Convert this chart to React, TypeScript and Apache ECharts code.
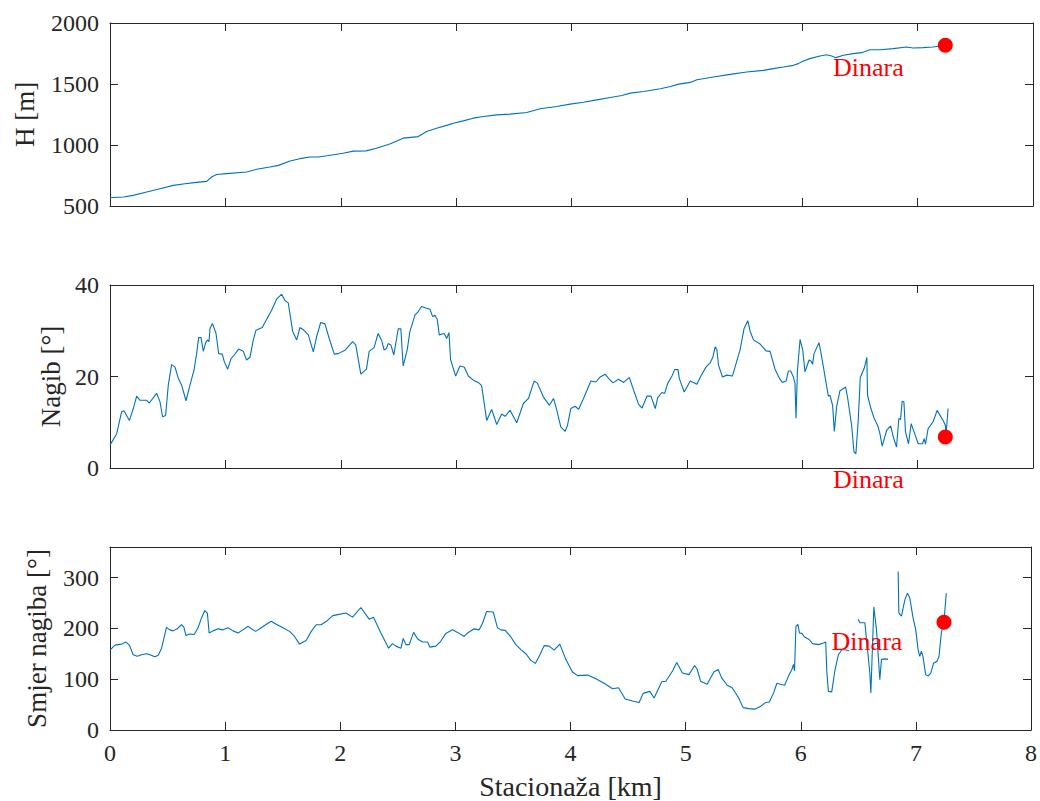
import React, { useEffect, useRef } from "react";
import * as echarts from "echarts";

// ---- Data ----
const xTicks = [0, 1, 2, 3, 4, 5, 6, 7, 8];

const hKm = [0, 0.116, 0.202, 0.318, 0.433, 0.549, 0.65, 0.751, 0.838, 0.881, 0.924, 1.011, 1.184, 1.271, 1.386, 1.459, 1.56, 1.646, 1.733, 1.805, 1.88, 2.02, 2.11, 2.22, 2.31, 2.425, 2.541, 2.672, 2.744, 2.831, 2.932, 2.975, 3.062, 3.149, 3.236, 3.352, 3.467, 3.612, 3.728, 3.873, 3.988, 4.104, 4.22, 4.336, 4.437, 4.509, 4.625, 4.77, 4.857, 4.929, 5.03, 5.087, 5.231, 5.375, 5.519, 5.663, 5.75, 5.836, 5.923, 5.966, 6.01, 6.067, 6.154, 6.211, 6.254, 6.292, 6.356, 6.442, 6.514, 6.586, 6.673, 6.788, 6.904, 6.961, 7.048, 7.134, 7.192, 7.241];
const hVal = [568, 574, 587, 615, 642, 669, 683, 694, 702, 738, 758, 765, 779, 801, 820, 833, 869, 888, 902, 902, 912, 933, 950, 952, 974, 1009, 1056, 1069, 1110, 1138, 1165, 1179, 1198, 1220, 1234, 1247, 1253, 1266, 1297, 1316, 1335, 1351, 1370, 1390, 1406, 1425, 1439, 1461, 1480, 1499, 1513, 1535, 1557, 1579, 1598, 1612, 1626, 1639, 1653, 1667, 1688, 1708, 1729, 1740, 1729, 1716, 1735, 1749, 1757, 1781, 1781, 1790, 1803, 1795, 1798, 1803, 1811, 1817];

const nagibKm = [0, 0.058, 0.101, 0.121, 0.168, 0.202, 0.231, 0.26, 0.318, 0.341, 0.404, 0.433, 0.456, 0.482, 0.505, 0.534, 0.563, 0.592, 0.621, 0.659, 0.693, 0.728, 0.751, 0.768, 0.789, 0.809, 0.829, 0.846, 0.858, 0.867, 0.887, 0.919, 0.942, 0.973, 0.991, 1.02, 1.049, 1.077, 1.115, 1.155, 1.184, 1.213, 1.242, 1.265, 1.32, 1.358, 1.401, 1.444, 1.488, 1.516, 1.545, 1.583, 1.618, 1.646, 1.681, 1.719, 1.762, 1.791, 1.826, 1.863, 1.9, 1.944, 1.979, 2.04, 2.103, 2.13, 2.174, 2.223, 2.246, 2.289, 2.324, 2.353, 2.376, 2.396, 2.411, 2.434, 2.46, 2.498, 2.521, 2.541, 2.576, 2.599, 2.643, 2.672, 2.7, 2.744, 2.773, 2.796, 2.816, 2.836, 2.854, 2.897, 2.918, 2.938, 2.952, 2.996, 3.033, 3.071, 3.106, 3.149, 3.192, 3.221, 3.265, 3.308, 3.352, 3.395, 3.424, 3.467, 3.525, 3.583, 3.627, 3.676, 3.705, 3.757, 3.809, 3.844, 3.873, 3.907, 3.945, 3.965, 3.994, 4.032, 4.061, 4.104, 4.168, 4.211, 4.249, 4.292, 4.321, 4.359, 4.408, 4.452, 4.501, 4.544, 4.582, 4.611, 4.654, 4.689, 4.726, 4.747, 4.784, 4.807, 4.834, 4.871, 4.894, 4.923, 4.934, 4.977, 5.029, 5.087, 5.121, 5.167, 5.202, 5.225, 5.245, 5.26, 5.274, 5.309, 5.346, 5.395, 5.418, 5.461, 5.496, 5.528, 5.548, 5.577, 5.635, 5.686, 5.721, 5.764, 5.802, 5.828, 5.86, 5.88, 5.9, 5.923, 5.937, 5.946, 5.958, 5.981, 6.004, 6.024, 6.059, 6.076, 6.09, 6.102, 6.145, 6.16, 6.188, 6.226, 6.24, 6.263, 6.278, 6.298, 6.327, 6.376, 6.393, 6.428, 6.448, 6.465, 6.485, 6.503, 6.537, 6.56, 6.566, 6.595, 6.624, 6.658, 6.673, 6.693, 6.731, 6.766, 6.791, 6.817, 6.837, 6.852, 6.866, 6.881, 6.895, 6.921, 6.944, 6.976, 7.005, 7.042, 7.057, 7.068, 7.091, 7.134, 7.169, 7.221, 7.241, 7.245, 7.264];
const nagibVal = [5.0, 7.5, 12.3, 12.5, 10.4, 13.0, 15.7, 14.8, 14.8, 14.2, 16.3, 14.5, 11.2, 11.5, 18.1, 22.6, 22.1, 19.6, 18.1, 14.7, 18.1, 21.4, 25.0, 28.5, 28.5, 25.5, 27.4, 28.0, 27.6, 30.5, 31.6, 29.4, 25.0, 24.9, 23.2, 21.6, 23.9, 24.7, 26.0, 25.5, 23.6, 24.2, 28.0, 30.1, 30.7, 32.5, 34.5, 36.9, 38.0, 36.6, 36.1, 29.9, 28.0, 30.7, 30.1, 29.1, 25.4, 28.7, 31.8, 31.5, 28.3, 24.9, 25.0, 25.8, 27.6, 26.9, 20.5, 21.6, 25.5, 26.3, 29.4, 28.0, 25.8, 26.1, 27.2, 26.9, 24.7, 30.4, 30.4, 22.3, 25.8, 29.8, 33.4, 34.2, 35.3, 34.9, 34.7, 33.1, 33.4, 32.5, 29.1, 29.4, 28.3, 29.6, 23.7, 20.1, 22.3, 22.0, 20.1, 19.2, 18.7, 18.0, 10.4, 12.8, 9.5, 11.8, 11.3, 12.6, 9.9, 14.1, 15.2, 19.0, 18.5, 15.5, 13.7, 15.2, 12.6, 9.0, 8.0, 9.3, 13.0, 13.5, 12.8, 15.2, 19.0, 18.8, 19.9, 20.5, 19.6, 18.6, 19.4, 18.7, 19.8, 16.6, 13.9, 13.1, 15.7, 15.7, 13.0, 15.4, 16.5, 16.3, 18.5, 20.1, 21.5, 21.5, 19.6, 16.6, 19.0, 18.3, 20.1, 22.1, 23.0, 24.2, 26.5, 25.9, 22.5, 19.9, 20.3, 20.1, 22.1, 25.8, 30.5, 32.2, 29.9, 28.0, 27.1, 25.6, 25.5, 21.6, 19.6, 18.7, 19.0, 21.2, 21.2, 19.9, 18.5, 10.9, 21.2, 28.1, 25.8, 21.0, 23.6, 23.4, 22.7, 25.0, 27.4, 25.5, 21.4, 15.7, 15.9, 13.7, 8.0, 13.4, 16.9, 17.7, 15.4, 9.3, 3.6, 3.1, 10.4, 19.8, 21.8, 24.2, 15.9, 13.0, 10.8, 9.0, 7.5, 4.8, 8.2, 9.2, 6.6, 4.6, 10.8, 10.6, 14.6, 14.5, 7.9, 5.3, 9.7, 7.4, 5.3, 5.3, 6.4, 5.2, 8.6, 10.1, 12.6, 10.4, 9.3, 6.8, 13.0];

const smjerKm = [0, 0.043, 0.101, 0.139, 0.168, 0.202, 0.237, 0.274, 0.318, 0.347, 0.39, 0.419, 0.448, 0.491, 0.52, 0.549, 0.583, 0.621, 0.641, 0.659, 0.693, 0.731, 0.765, 0.794, 0.823, 0.846, 0.861, 0.895, 0.939, 0.982, 1.025, 1.069, 1.112, 1.155, 1.199, 1.228, 1.265, 1.314, 1.358, 1.401, 1.444, 1.502, 1.56, 1.603, 1.646, 1.704, 1.748, 1.791, 1.834, 1.892, 1.935, 1.979, 2.049, 2.107, 2.179, 2.251, 2.289, 2.353, 2.42, 2.454, 2.483, 2.527, 2.547, 2.57, 2.599, 2.637, 2.672, 2.715, 2.758, 2.779, 2.831, 2.874, 2.917, 2.975, 3.019, 3.077, 3.106, 3.164, 3.207, 3.236, 3.271, 3.329, 3.366, 3.395, 3.433, 3.482, 3.525, 3.569, 3.612, 3.656, 3.694, 3.722, 3.771, 3.815, 3.858, 3.907, 3.959, 4.017, 4.061, 4.148, 4.22, 4.292, 4.365, 4.417, 4.475, 4.538, 4.596, 4.631, 4.689, 4.726, 4.793, 4.828, 4.886, 4.923, 4.972, 5.029, 5.078, 5.101, 5.13, 5.187, 5.245, 5.283, 5.312, 5.361, 5.404, 5.461, 5.499, 5.548, 5.6, 5.649, 5.692, 5.727, 5.764, 5.793, 5.822, 5.86, 5.894, 5.923, 5.937, 5.946, 5.958, 5.975, 5.989, 6.01, 6.033, 6.073, 6.102, 6.154, 6.197, 6.217, 6.226, 6.24, 6.269, 6.298, 6.327, 6.356, 6.384, 6.419, 6.46, 6.499, 6.514, 6.557, 6.6, 6.609, 6.635, 6.658, 6.687, 6.701, 6.73, 6.759, 6.8, 6.846, 6.852, 6.875, 6.904, 6.927, 6.947, 6.976, 6.999, 7.019, 7.034, 7.048, 7.062, 7.085, 7.106, 7.129, 7.155, 7.184, 7.201, 7.221, 7.244, 7.264];
const smjerVal = [157, 167, 169, 173, 167, 148, 145, 148, 150, 148, 144, 147, 161, 202, 197, 195, 199, 207, 203, 186, 189, 188, 201, 220, 235, 230, 191, 195, 199, 197, 201, 195, 191, 197, 204, 199, 194, 201, 208, 214, 208, 201, 194, 184, 169, 176, 194, 207, 207, 216, 225, 227, 230, 222, 241, 218, 222, 191, 161, 170, 165, 161, 180, 168, 168, 192, 179, 173, 173, 163, 165, 175, 190, 197, 192, 184, 191, 199, 197, 210, 233, 232, 201, 197, 196, 183, 168, 158, 150, 137, 131, 142, 166, 165, 157, 169, 139, 114, 107, 108, 101, 92, 81, 83, 61, 57, 54, 72, 76, 63, 95, 96, 116, 133, 112, 109, 127, 119, 96, 90, 114, 119, 103, 88, 83, 63, 44, 42, 41, 46, 54, 55, 73, 92, 90, 88, 106, 119, 129, 116, 204, 208, 191, 190, 183, 178, 170, 168, 171, 173, 116, 76, 75, 119, 148, 158, 158, 156, null, 218, 211, 211, 112, 73, 242, 197, 99, 139, 140, 139, null, 312, 230, 224, 256, 269, 260, 220, 197, 158, 145, 155, 144, 109, 106, 112, 132, 135, 145, 191, 213, 269];

const markerName = "Dinara";
const markerKm = [7.24, 7.24, 7.244];
const markerVal = [1817, 6.8, 212];

const hTicks = { min: 500, max: 2000, interval: 500 };
const nagibTicks = { min: 0, max: 40, interval: 20 };
const smjerTicks = { min: 0, max: 360, interval: 100 };

const zip = (xs: number[], ys: (number | null)[]) => xs.map((x, i) => [x, ys[i]]);

const FONT = "'Liberation Serif', 'Times New Roman', serif";
const AX = "#262626";
const LINE = "#0072BD";

export default function App() {
  const ref = useRef<HTMLDivElement>(null);
  useEffect(() => {
    document.body.style.margin = "0";
    const chart = echarts.init(ref.current!, undefined, { renderer: "svg" });

    const grids = [
      { left: 110, top: 23, width: 923, height: 183 },
      { left: 110, top: 285, width: 923, height: 183 },
      { left: 110, top: 547, width: 923, height: 184 },
    ];
    const yDefs = [
      { ...hTicks, name: "H [m]", gap: 72 },
      { ...nagibTicks, name: "Nagib [°]", gap: 46 },
      { ...smjerTicks, name: "Smjer nagiba [°]", gap: 60 },
    ];

    const common = {
      type: "value",
      axisLine: { show: true, onZero: false, lineStyle: { color: AX, width: 1 } },
      axisTick: { show: true, inside: true, length: 8, lineStyle: { color: AX, width: 1 } },
      splitLine: { show: false },
    };

    const xAxis: any[] = [];
    const yAxis: any[] = [];
    grids.forEach((g, i) => {
      const isLast = i === grids.length - 1;
      xAxis.push({
        ...common,
        gridIndex: i,
        position: "bottom",
        min: xTicks[0],
        max: xTicks[xTicks.length - 1],
        interval: 1,
        axisLabel: { show: isLast, color: AX, fontFamily: FONT, fontSize: 24, margin: 11 },
        name: isLast ? "Stacionaža [km]" : "",
        nameLocation: "middle",
        nameGap: 42,
        nameTextStyle: { color: AX, fontFamily: FONT, fontSize: 28 },
      });
      xAxis.push({
        ...common,
        gridIndex: i,
        position: "top",
        min: xTicks[0],
        max: xTicks[xTicks.length - 1],
        interval: 1,
        axisLabel: { show: false },
      });
      const d = yDefs[i];
      yAxis.push({
        ...common,
        gridIndex: i,
        position: "left",
        min: d.min,
        max: d.max,
        interval: d.interval,
        axisLabel: {
          color: AX,
          fontFamily: FONT,
          fontSize: 24,
          margin: 11,
          formatter: (v: number) => ((v - d.min) % d.interval === 0 ? String(v) : ""),
        },
        name: d.name,
        nameLocation: "middle",
        nameGap: d.gap,
        nameTextStyle: { color: AX, fontFamily: FONT, fontSize: 27 },
      });
      yAxis.push({
        ...common,
        gridIndex: i,
        position: "right",
        min: d.min,
        max: d.max,
        interval: d.interval,
        axisLabel: { show: false },
      });
    });

    const lines = [zip(hKm, hVal), zip(nagibKm, nagibVal), zip(smjerKm, smjerVal)];
    const labelOffsets = [[-77, 22], [-77, 43], [-77, 19]];
    const series: any[] = [];
    lines.forEach((data, i) => {
      series.push({
        type: "line",
        xAxisIndex: 2 * i,
        yAxisIndex: 2 * i,
        data,
        showSymbol: false,
        connectNulls: false,
        lineStyle: { color: LINE, width: 1.1 },
        itemStyle: { color: LINE },
        z: 2,
      });
      series.push({
        type: "scatter",
        xAxisIndex: 2 * i,
        yAxisIndex: 2 * i,
        data: [[markerKm[i], markerVal[i]]],
        symbolSize: 15,
        clip: false,
        itemStyle: { color: "#FF0000", opacity: 1 },
        label: {
          show: true,
          position: "inside",
          offset: labelOffsets[i],
          formatter: markerName,
          color: "#FF0000",
          opacity: 1,
          fontFamily: FONT,
          fontSize: 26,
        },
        z: 3,
      });
    });

    chart.setOption({
      animation: false,
      backgroundColor: "#ffffff",
      grid: grids,
      xAxis,
      yAxis,
      series,
    });
    return () => chart.dispose();
  }, []);
  return <div ref={ref} style={{ width: 1040, height: 801 }} />;
}
